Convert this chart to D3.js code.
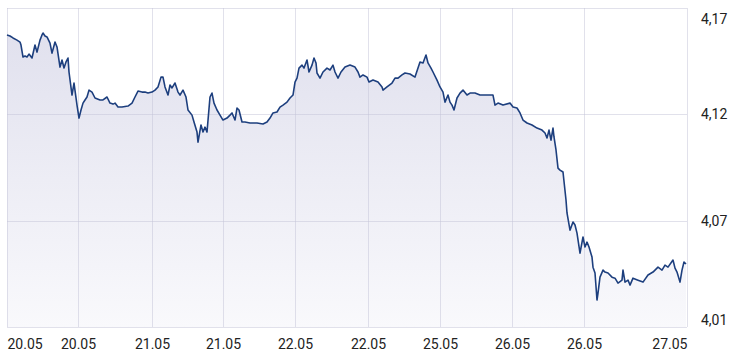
<!DOCTYPE html>
<html><head><meta charset="utf-8">
<script src="https://cdn.jsdelivr.net/npm/d3@7"></script>
<style>
html,body{margin:0;padding:0;background:#fff;}
svg{display:block;font-family:Roboto,"Noto Sans",sans-serif;}
</style></head>
<body>
<svg id="c" width="733" height="362"></svg>
<script>
// sample index (trading-time order) and price
const idx = [0,3,6,10,13,14,16,18,20,22,25,28,30,33,35,36,38,40,43,45,48,50,53,55,57,59,61,62,65,67,70,72,74,76,78,80,82,85,88,93,96,100,103,106,108,111,115,121,125,128,131,135,138,141,145,148,151,154,156,158,161,163,165,168,171,173,176,179,181,185,187,190,191,194,196,198,200,203,205,207,210,213,216,220,223,225,228,230,232,235,238,243,250,256,260,263,266,270,273,276,280,283,286,288,290,292,295,297,300,302,305,307,309,310,313,316,320,323,326,328,331,334,338,343,348,351,353,356,360,362,366,371,375,376,380,385,388,391,395,398,403,408,411,413,416,419,421,424,426,430,433,436,438,441,443,445,447,450,453,456,460,463,468,473,480,486,488,491,496,503,506,510,513,516,520,525,530,535,538,540,542,544,546,547,549,551,553,556,559,560,563,566,568,570,573,576,578,580,582,585,586,588,590,591,593,596,598,601,605,608,611,615,616,618,621,623,626,631,636,641,646,651,655,658,661,666,668,670,673,675,677,679];
const price = [4.1653,4.1648,4.1638,4.1627,4.1617,4.1602,4.1541,4.1546,4.1541,4.1556,4.1536,4.1602,4.1566,4.1627,4.1653,4.1663,4.1648,4.1643,4.1612,4.1561,4.1617,4.1592,4.1490,4.1526,4.1485,4.1516,4.1536,4.1465,4.1348,4.1409,4.1297,4.1231,4.1272,4.1307,4.1323,4.1338,4.1373,4.1363,4.1333,4.1323,4.1323,4.1338,4.1307,4.1302,4.1307,4.1287,4.1287,4.1292,4.1307,4.1338,4.1368,4.1363,4.1363,4.1358,4.1363,4.1373,4.1389,4.1439,4.1439,4.1389,4.1348,4.1399,4.1384,4.1409,4.1363,4.1348,4.1373,4.1338,4.1272,4.1246,4.1211,4.1160,4.1109,4.1196,4.1160,4.1185,4.1160,4.1338,4.1358,4.1307,4.1272,4.1246,4.1221,4.1231,4.1246,4.1257,4.1221,4.1282,4.1272,4.1211,4.1211,4.1206,4.1206,4.1201,4.1211,4.1231,4.1257,4.1262,4.1287,4.1297,4.1312,4.1333,4.1348,4.1414,4.1434,4.1485,4.1500,4.1485,4.1526,4.1465,4.1500,4.1536,4.1511,4.1460,4.1434,4.1465,4.1485,4.1475,4.1500,4.1465,4.1434,4.1465,4.1490,4.1500,4.1490,4.1465,4.1439,4.1450,4.1439,4.1414,4.1424,4.1414,4.1389,4.1373,4.1389,4.1409,4.1434,4.1434,4.1450,4.1460,4.1455,4.1439,4.1485,4.1516,4.1511,4.1551,4.1511,4.1485,4.1465,4.1424,4.1389,4.1363,4.1312,4.1348,4.1312,4.1297,4.1272,4.1333,4.1358,4.1373,4.1348,4.1358,4.1358,4.1348,4.1348,4.1348,4.1297,4.1307,4.1297,4.1307,4.1287,4.1282,4.1257,4.1221,4.1206,4.1196,4.1180,4.1170,4.1155,4.1130,4.1170,4.1119,4.1180,4.1135,4.1069,4.0977,4.0967,4.0957,4.0815,4.0749,4.0662,4.0703,4.0688,4.0647,4.0545,4.0627,4.0576,4.0601,4.0576,4.0525,4.0474,4.0444,4.0307,4.0342,4.0423,4.0459,4.0449,4.0444,4.0423,4.0418,4.0393,4.0408,4.0459,4.0398,4.0408,4.0383,4.0418,4.0408,4.0398,4.0434,4.0449,4.0474,4.0459,4.0484,4.0474,4.0510,4.0469,4.0449,4.0398,4.0459,4.0500,4.0490];

const xDomain = [0, 680];
const yDomain = [4.017, 4.179];
const xTickIdx = [0,71,145,216,288,361,433,505,577,680];
const xTickLabels = ["20.05","20.05","21.05","21.05","22.05","22.05","25.05","26.05","26.05","27.05"];
const yTickVals = [4.179,4.125,4.071,4.017];
const yTickLabels = ["4,17","4,12","4,07","4,01"];

const L = 7, R = 687, T = 8, B = 327;
const svg = d3.select("#c");
const x = d3.scaleLinear().domain(xDomain).range([L, R]);
const y = d3.scaleLinear().domain(yDomain).range([B, T]);

const defs = svg.append("defs");
const g = defs.append("linearGradient").attr("id","fillg")
  .attr("gradientUnits","userSpaceOnUse").attr("x1",0).attr("x2",0).attr("y1",T+25).attr("y2",B);
g.append("stop").attr("offset","0").attr("stop-color","#e1e1ee");
g.append("stop").attr("offset","1").attr("stop-color","#f9f9fc");

const data = idx.map((d,i)=>({i:d, v:price[i]}));

svg.append("path").datum(data)
  .attr("fill","url(#fillg)")
  .attr("d", d3.area().x(d=>x(d.i)).y0(B).y1(d=>y(d.v)));

// grid
const grid = svg.append("g");
grid.selectAll("line.h").data(yTickVals).join("line")
  .attr("x1",L).attr("x2",R).attr("y1",d=>Math.round(y(d))+0.5).attr("y2",d=>Math.round(y(d))+0.5)
  .attr("stroke","rgba(195,195,215,0.5)").attr("stroke-width",1);
grid.selectAll("line.v").data(xTickIdx).join("line")
  .attr("x1",d=>Math.round(x(d))+0.5).attr("x2",d=>Math.round(x(d))+0.5).attr("y1",T).attr("y2",B)
  .attr("stroke","rgba(195,195,215,0.5)").attr("stroke-width",1);

svg.append("path").datum(data)
  .attr("fill","none").attr("stroke","#1d3f7e").attr("stroke-width",1.6)
  .attr("stroke-linejoin","round")
  .attr("d", d3.line().x(d=>x(d.i)).y(d=>y(d.v)));

// y labels (right)
const yAxis = d3.axisRight(y).tickValues(yTickVals).tickFormat((d,i)=>yTickLabels[i]).tickSize(0);
const ya = svg.append("g").attr("transform",`translate(${R+11},0)`).call(yAxis);
ya.select(".domain").remove();
ya.selectAll("text").attr("font-size",14).attr("fill","#222").attr("font-family","Roboto, sans-serif")
  .attr("dy",(d,i)=> i===0 ? "1.1em" : (i===yTickVals.length-1 ? "-0.2em" : "0.32em"));

// x labels
const xAxis = d3.axisBottom(x).tickValues(xTickIdx).tickFormat((d,i)=>xTickLabels[i]).tickSize(0);
const xa = svg.append("g").attr("transform",`translate(0,${B+9})`).call(xAxis);
xa.select(".domain").remove();
xa.selectAll("text").attr("font-size",14).attr("fill","#222").attr("font-family","Roboto, sans-serif")
  .attr("text-anchor",(d,i)=> i===0 ? "start" : (i===xTickIdx.length-1 ? "end" : "middle"));
</script>
</body></html>
